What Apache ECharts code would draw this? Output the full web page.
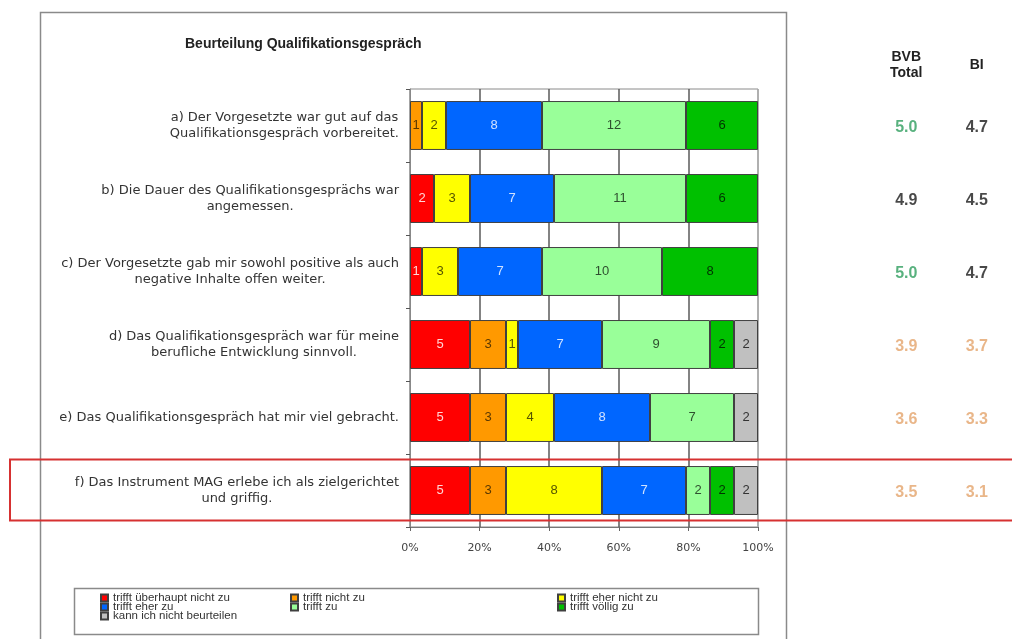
<!DOCTYPE html>
<html>
<head>
<meta charset="utf-8">
<script src="https://cdn.jsdelivr.net/npm/echarts@6/dist/echarts.min.js"></script>
<style>
  html, body { margin: 0; padding: 0; background: #fff; }
  #chart { width: 1012px; height: 639px; }
</style>
</head>
<body>
<div id="chart"></div>
<script>
const categories = [
  'a) Der Vorgesetzte war gut auf das\nQualifikationsgespräch vorbereitet.',
  'b) Die Dauer des Qualifikationsgesprächs war\nangemessen.',
  'c) Der Vorgesetzte gab mir sowohl positive als auch\nnegative Inhalte offen weiter.',
  'd) Das Qualifikationsgespräch war für meine\nberufliche Entwicklung sinnvoll.',
  'e) Das Qualifikationsgespräch hat mir viel gebracht.',
  'f) Das Instrument MAG erlebe ich als zielgerichtet\nund griffig.'
]
const answerNames = [
  'trifft überhaupt nicht zu', 'trifft nicht zu', 'trifft eher nicht zu',
  'trifft eher zu', 'trifft zu', 'trifft völlig zu', 'kann ich nicht beurteilen'
]
const ueberhauptNicht = [0, 2, 1, 5, 5, 5]
const nichtZu = [1, 0, 0, 3, 3, 3]
const eherNicht = [2, 3, 3, 1, 4, 8]
const eherZu = [8, 7, 7, 7, 8, 7]
const trifftZu = [12, 11, 10, 9, 7, 2]
const voelligZu = [6, 6, 8, 2, 0, 2]
const keinUrteil = [0, 0, 0, 2, 2, 2]
const columnHeads = ['BVB\nTotal', 'BI']
const bvbTotal = [5.0, 4.9, 5.0, 3.9, 3.6, 3.5]
const biValues = [4.7, 4.5, 4.7, 3.7, 3.3, 3.1]

const counts = [ueberhauptNicht, nichtZu, eherNicht, eherZu, trifftZu, voelligZu, keinUrteil]
const colors = ['#ff0000', '#ff9900', '#ffff00', '#0066ff', '#99ff99', '#00c000', '#c0c0c0']
const labelColors = ['#ffd6d6', '#5a3800', '#555500', '#d0e2ff', '#2f4f2f', '#003300', '#333333']
const totals = categories.map((c, i) => counts.reduce((s, arr) => s + arr[i], 0))

function scoreColor(v) {
  if (v >= 5) return '#2e9e5e'
  if (v >= 4) return '#1a1a1a'
  return '#e3a46c'
}

const barSeries = counts.map((arr, k) => ({
  name: answerNames[k],
  type: 'bar',
  stack: 'total',
  barWidth: '67%',
  itemStyle: { color: colors[k], borderColor: '#404040', borderWidth: 1 },
  label: {
    show: true,
    color: labelColors[k],
    fontFamily: 'Liberation Sans',
    fontSize: 13,
    formatter: (p) => (p.data.count ? String(p.data.count) : '')
  },
  data: arr.map((c, i) => ({
    value: (c / totals[i]) * 100,
    count: c,
    itemStyle: c ? undefined : { borderWidth: 0 }
  }))
}))

const scoreSeries = [bvbTotal, biValues].map((vals, col) => ({
  type: 'scatter',
  xAxisIndex: 1,
  yAxisIndex: 1,
  symbolSize: 1,
  itemStyle: { color: 'rgba(0,0,0,0)' },
  silent: true,
  label: {
    show: true,
    position: 'inside',
    offset: [0, 2],
    fontFamily: 'Liberation Sans',
    fontWeight: 'bold',
    fontSize: 16,
    formatter: (p) => p.data.value[2].toFixed(1)
  },
  data: vals.map((v, i) => ({ value: [col, i, v], label: { color: scoreColor(v) } }))
}))

const legendText = { fontFamily: 'Liberation Sans', fontSize: 11.5, color: '#333' }
function legendCol(names, left) {
  return {
    data: names, left: left, top: 592, orient: 'vertical', itemGap: -3,
    itemWidth: 7, itemHeight: 7, icon: 'rect', selectedMode: false,
    padding: 0, textStyle: legendText
  }
}

const chart = echarts.init(document.getElementById('chart'))
chart.setOption({
  animation: false,
  title: {
    text: 'Beurteilung Qualifikationsgespräch',
    left: 185, top: 37, padding: 0,
    textStyle: { fontFamily: 'Liberation Sans', fontWeight: 'bold', fontSize: 14, color: '#222' }
  },
  legend: [
    legendCol([answerNames[0], answerNames[3], answerNames[6]], 100),
    legendCol([answerNames[1], answerNames[4]], 290),
    legendCol([answerNames[2], answerNames[5]], 557)
  ],
  grid: [
    { left: 410, right: 254, top: 89, bottom: 112, show: true, borderColor: '#8a8a8a', borderWidth: 1 },
    { left: 871, width: 146, top: 89, bottom: 112 }
  ],
  xAxis: [
    {
      type: 'value', min: 0, max: 100, interval: 20,
      axisLine: { show: true, lineStyle: { color: '#777' } },
      axisTick: { show: true, length: 4, lineStyle: { color: '#666' } },
      axisLabel: { formatter: '{value}%', fontFamily: 'DejaVu Sans', fontSize: 11, color: '#444', margin: 16 },
      splitLine: { show: true, lineStyle: { color: ['#999', '#5a5a5a', '#5a5a5a', '#5a5a5a', '#5a5a5a', '#aaa'], width: 1.5 } }
    },
    {
      type: 'category', gridIndex: 1, position: 'top', data: columnHeads,
      axisLine: { show: false }, axisTick: { show: false },
      axisLabel: { fontFamily: 'Liberation Sans', fontWeight: 'bold', fontSize: 14, lineHeight: 16, color: '#222', verticalAlign: 'middle', margin: 24 }
    }
  ],
  yAxis: [
    {
      type: 'category', inverse: true, data: categories,
      axisLine: { show: true, lineStyle: { color: '#888' } },
      axisTick: { show: true, length: 4, lineStyle: { color: '#555' } },
      axisLabel: {
        margin: 11,
        formatter: (v) => v.split('\n').map((l) => '{c|' + l + '}').join('\n'),
        rich: { c: { align: 'center', fontFamily: 'DejaVu Sans', fontSize: 13, lineHeight: 16, color: '#333' } }
      }
    },
    {
      type: 'category', gridIndex: 1, inverse: true, data: categories,
      axisLine: { show: false }, axisTick: { show: false }, axisLabel: { show: false }
    }
  ],
  graphic: [
    { type: 'rect', shape: { x: 40.5, y: 12.5, width: 746, height: 640 }, style: { fill: 'none', stroke: '#8a8a8a', lineWidth: 1.5 }, silent: true },
    { type: 'rect', shape: { x: 74.5, y: 588.5, width: 684, height: 46 }, style: { fill: 'none', stroke: '#8a8a8a', lineWidth: 1.5 }, silent: true },
    { type: 'rect', z: 100, shape: { x: 10, y: 459.5, width: 1010, height: 61 }, style: { fill: 'none', stroke: '#d63131', lineWidth: 2 }, silent: true }
  ],
  series: barSeries.concat(scoreSeries)
})
</script>
</body>
</html>
